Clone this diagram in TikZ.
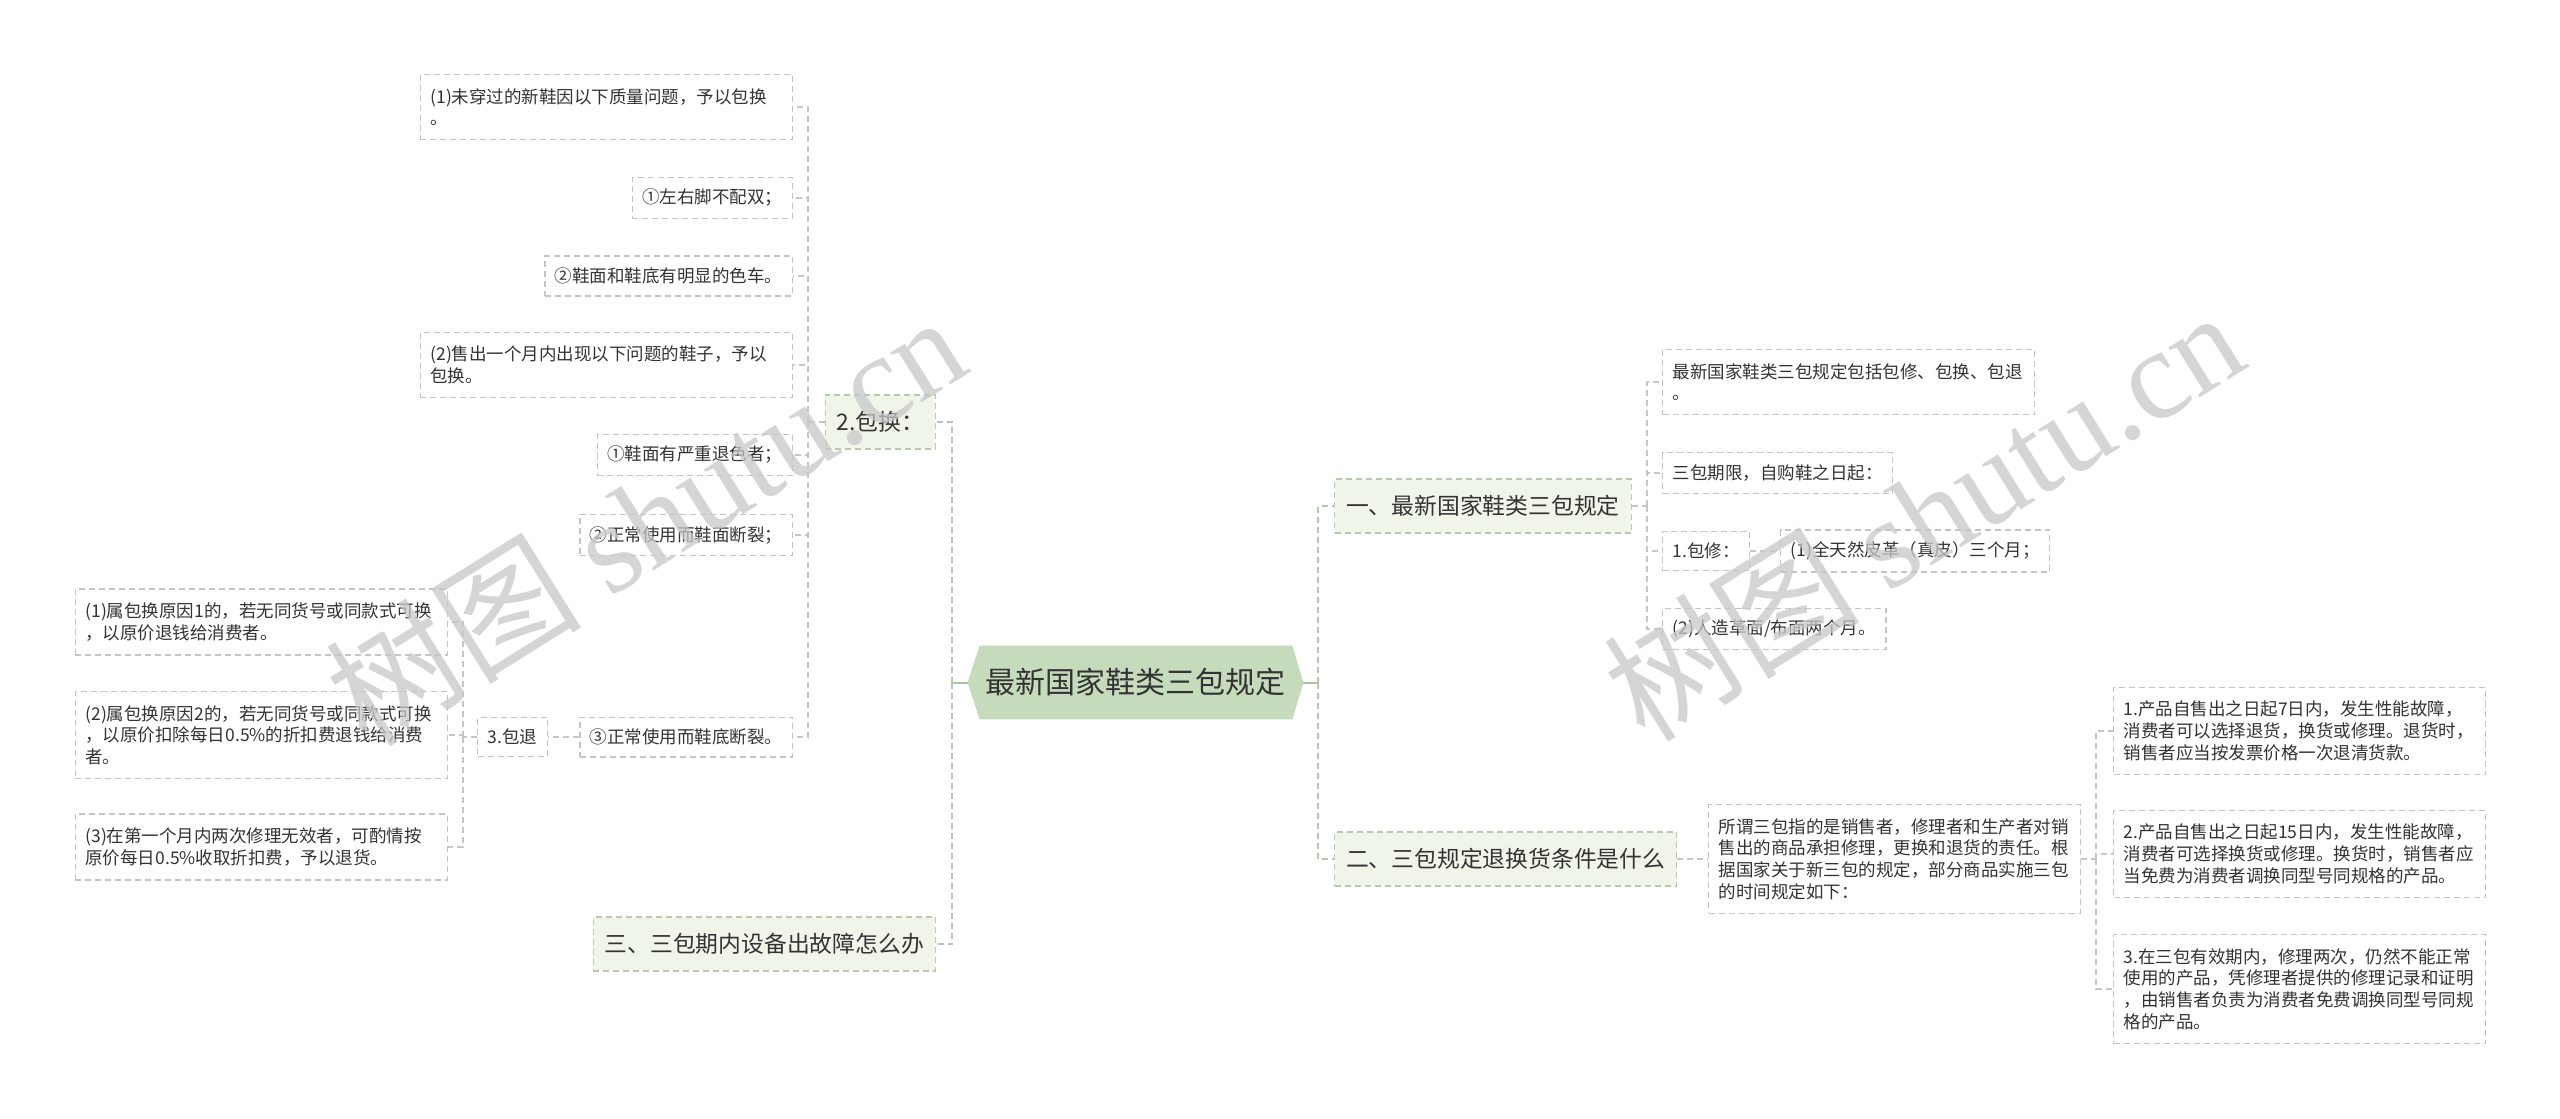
\documentclass[tikz,border=0pt]{standalone}
\usepackage{fontspec}
\setmainfont{Noto Sans CJK SC}
\newfontfamily\wmserif{Liberation Serif}
\usetikzlibrary{backgrounds}
\definecolor{txt}{HTML}{333333}
\definecolor{rootfill}{HTML}{C5DBBC}
\definecolor{lonefill}{HTML}{EFF5E9}
\definecolor{lonec}{HTML}{B9C9B0}
\definecolor{boxc}{HTML}{C4C4C4}
\definecolor{connc}{HTML}{C6C6C6}
\definecolor{trunkc}{HTML}{B5C9AA}
\definecolor{rootc}{HTML}{A8C49C}
\definecolor{wmc}{HTML}{C8C8C8}
\begin{document}
\begin{tikzpicture}[x=0.5pt,y=-0.5pt,
  sbox/.style={draw=boxc, dash pattern=on 3pt off 2pt, line width=0.55pt,
    font=\fontsize{8.75pt}{10.85pt}\selectfont, text=txt,
    inner xsep=5pt, inner ysep=6.9pt, align=left},
  wbox/.style={text width=176pt},
  oneline/.style={inner ysep=5.9pt},
  lone/.style={draw=lonec, fill=lonefill, dash pattern=on 3pt off 2pt, line width=0.55pt,
    font=\fontsize{11.4pt}{13pt}\selectfont, text=txt,
    inner xsep=5.75pt, inner ysep=0pt, minimum height=27pt},
  conn/.style={draw=connc, line width=0.6pt, dash pattern=on 3pt off 2pt},
  trunk/.style={draw=trunkc, line width=0.75pt, dash pattern=on 3pt off 2pt},
  rootconn/.style={draw=rootc, line width=1pt},
  rootnode/.style={inner sep=0pt, minimum width=167.5pt, minimum height=36.5pt,
    font=\fontsize{15pt}{18pt}\selectfont, text=txt},
  wm/.style={text=wmc, opacity=0.75, font=\fontsize{64pt}{72pt}\selectfont, inner sep=0pt}
]
\useasboundingbox (0,0) rectangle (2560,1119);
\begin{scope}[on background layer]
\fill[white] (0,0) rectangle (2560,1119);
\end{scope}

% root
\node[rootnode] (root) at (1135.5,682.5) {最新国家鞋类三包规定};
\begin{scope}[on background layer]
\fill[rootfill] (root.west) -- ([xshift=6pt]root.north west) -- ([xshift=-5.5pt]root.north east)
  -- (root.east) -- ([xshift=-5.5pt]root.south east) -- ([xshift=6pt]root.south west) -- cycle;
\end{scope}

% level 1
\node[lone, anchor=east] (b2) at (936,422) {2.包换：};
\node[lone, anchor=east] (b3) at (936,944) {三、三包期内设备出故障怎么办};
\node[lone, anchor=west] (r1) at (1334,506) {一、最新国家鞋类三包规定};
\node[lone, anchor=west] (r2) at (1334,859) {二、三包规定退换货条件是什么};

% left: 2.包换 children
\node[sbox, wbox, anchor=east] (e1) at (793,107) {(1)未穿过的新鞋因以下质量问题，予以包换\\。};
\node[sbox, oneline, anchor=east] (e2) at (793,198) {①左右脚不配双；};
\node[sbox, oneline, anchor=east] (e3) at (793,276) {②鞋面和鞋底有明显的色车。};
\node[sbox, wbox, anchor=east] (e4) at (793,365) {(2)售出一个月内出现以下问题的鞋子，予以\\包换。};
\node[sbox, oneline, anchor=east] (e5) at (793,455) {①鞋面有严重退色者；};
\node[sbox, oneline, anchor=east] (e6) at (793,535) {②正常使用而鞋面断裂；};
\node[sbox, oneline, anchor=east] (e7) at (793,737) {③正常使用而鞋底断裂。};
\node[sbox, oneline, anchor=east] (tui) at (548,737) {3.包退};
\node[sbox, wbox, anchor=east] (f1) at (448,622) {(1)属包换原因1的，若无同货号或同款式可换\\，以原价退钱给消费者。};
\node[sbox, wbox, anchor=east] (f2) at (448,735) {(2)属包换原因2的，若无同货号或同款式可换\\，以原价扣除每日0.5\%的折扣费退钱给消费\\者。};
\node[sbox, wbox, anchor=east] (f3) at (448,847) {(3)在第一个月内两次修理无效者，可酌情按\\原价每日0.5\%收取折扣费，予以退货。};

% right: 一 children
\node[sbox, wbox, anchor=west] (c1) at (1662,382) {最新国家鞋类三包规定包括包修、包换、包退\\。};
\node[sbox, oneline, anchor=west] (c2) at (1662,473) {三包期限，自购鞋之日起：};
\node[sbox, oneline, anchor=west] (c3) at (1662,551) {1.包修：};
\node[sbox, oneline, anchor=west] (c3a) at (1780,551) {(1)全天然皮革（真皮）三个月；};
\node[sbox, oneline, anchor=west] (c4) at (1662,629) {(2)人造革面/布面两个月。};

% right: 二 children
\node[sbox, wbox, anchor=west] (s1) at (1708,859) {所谓三包指的是销售者，修理者和生产者对销\\售出的商品承担修理，更换和退货的责任。根\\据国家关于新三包的规定，部分商品实施三包\\的时间规定如下：};
\node[sbox, wbox, anchor=west] (d1) at (2113,731) {1.产品自售出之日起7日内，发生性能故障，\\消费者可以选择退货，换货或修理。退货时，\\销售者应当按发票价格一次退清货款。};
\node[sbox, wbox, anchor=west] (d2) at (2113,854) {2.产品自售出之日起15日内，发生性能故障，\\消费者可选择换货或修理。换货时，销售者应\\当免费为消费者调换同型号同规格的产品。};
\node[sbox, wbox, anchor=west] (d3) at (2113,989) {3.在三包有效期内，修理两次，仍然不能正常\\使用的产品，凭修理者提供的修理记录和证明\\，由销售者负责为消费者免费调换同型号同规\\格的产品。};

% junction points
\coordinate (jl) at (952,682.5);
\coordinate (jr) at (1318,682.5);
\coordinate (jb2) at (808,422);
\coordinate (jt) at (463,737);
\coordinate (jr1) at (1647,506);
\coordinate (js) at (2096,859);

% root connectors
\draw[rootconn] (root.west) -- (jl);
\draw[rootconn] (root.east) -- (jr);
\draw[trunk] (jl) |- (b2.east);
\draw[trunk] (jl) |- (b3.east);
\draw[trunk] (jr) |- (r1.west);
\draw[trunk] (jr) |- (r2.west);

% 2.包换
\draw[conn] (b2.west) -- (jb2);
\foreach \n in {e1,e2,e3,e4,e5,e6,e7} {\draw[conn] (jb2) |- (\n.east);}
\draw[conn] (e7.west) -- (tui.east);
\draw[conn] (tui.west) -- (jt);
\foreach \n in {f1,f2,f3} {\draw[conn] (jt) |- (\n.east);}

% 一
\draw[conn] (r1.east) -- (jr1);
\foreach \n in {c1,c2,c3,c4} {\draw[conn] (jr1) |- (\n.west);}
\draw[conn] (c3.east) -- (c3a.west);

% 二
\draw[conn] (r2.east) -- (s1.west);
\draw[conn] (s1.east) -- (js);
\foreach \n in {d1,d2,d3} {\draw[conn] (js) |- (\n.west);}

% watermarks
\node[wm, rotate=32] (wm1) at (645,519) {树图 {\wmserif shutu.cn}};
\node[wm, rotate=32] (wm2) at (1923,514) {树图 {\wmserif shutu.cn}};
\end{tikzpicture}
\end{document}
